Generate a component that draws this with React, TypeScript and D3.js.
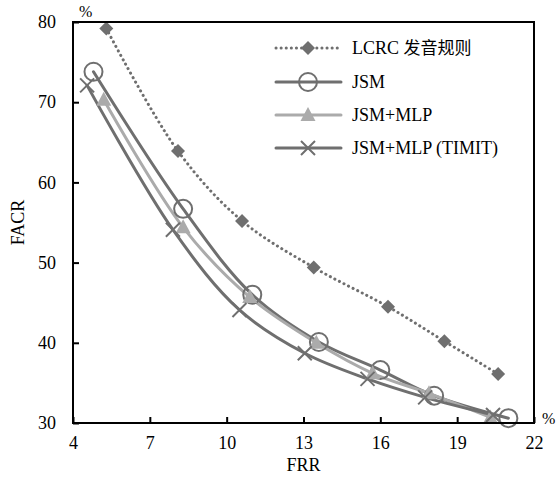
import { useEffect, useRef } from "react";
import * as d3 from "d3";

const xTicks = [4, 7, 10, 13, 16, 19, 22];
const yTicks = [30, 40, 50, 60, 70, 80];

const lcrc: [number, number][] = [
  [5.3, 79.2], [8.1, 63.9], [10.6, 55.2], [13.4, 49.4], [16.3, 44.5], [18.5, 40.2], [20.6, 36.1],
];
const jsm: [number, number][] = [
  [4.8, 73.8], [8.3, 56.7], [11.0, 46.0], [13.6, 40.1], [16.0, 36.6], [18.1, 33.4], [21.0, 30.6],
];
const jsmMlp: [number, number][] = [
  [5.2, 70.3], [8.3, 54.4], [10.9, 45.7], [13.5, 40.0], [15.7, 36.2], [17.9, 33.7], [20.3, 30.7],
];
const timit: [number, number][] = [
  [4.55, 72.1], [7.9, 54.1], [10.5, 44.1], [13.05, 38.7], [15.5, 35.5], [17.75, 33.2], [20.4, 31.0],
];

const legendLabels = ["LCRC 发音规则", "JSM", "JSM+MLP", "JSM+MLP (TIMIT)"];

const dark = "#6f6f6f";
const light = "#ababab";
const serif = "Liberation Serif";

type Series = { data: [number, number][]; color: string; marker: string; dotted?: boolean };

export default function App() {
  const ref = useRef<SVGSVGElement>(null);

  useEffect(() => {
    const width = 557;
    const height = 477;
    const margin = { top: 22, right: 23, bottom: 54, left: 73 };

    const svg = d3.select(ref.current);
    svg.selectAll("*").remove();

    const x = d3.scaleLinear().domain([4, 22]).range([margin.left, width - margin.right]);
    const y = d3.scaleLinear().domain([30, 80]).range([height - margin.bottom, margin.top]);

    const series: Series[] = [
      { data: lcrc, color: dark, marker: "diamond", dotted: true },
      { data: jsm, color: dark, marker: "circle" },
      { data: jsmMlp, color: light, marker: "triangle" },
      { data: timit, color: dark, marker: "cross" },
    ];

    const drawMarker = (g: d3.Selection<any, unknown, null, undefined>, kind: string, cx: number, cy: number, color: string) => {
      if (kind === "diamond") {
        g.append("path")
          .attr("d", `M${cx},${cy - 7}L${cx + 7},${cy}L${cx},${cy + 7}L${cx - 7},${cy}Z`)
          .attr("fill", color);
      } else if (kind === "circle") {
        g.append("circle")
          .attr("cx", cx).attr("cy", cy).attr("r", 9)
          .attr("fill", "none").attr("stroke", color).attr("stroke-width", 2);
      } else if (kind === "triangle") {
        g.append("path")
          .attr("d", `M${cx},${cy - 8}L${cx + 7.5},${cy + 6}L${cx - 7.5},${cy + 6}Z`)
          .attr("fill", color);
      } else {
        g.append("path")
          .attr("d", `M${cx - 7},${cy - 7}L${cx + 7},${cy + 7}M${cx + 7},${cy - 7}L${cx - 7},${cy + 7}`)
          .attr("stroke", color).attr("stroke-width", 2).attr("fill", "none");
      }
    };

    const line = d3
      .line<[number, number]>()
      .x((d) => x(d[0]))
      .y((d) => y(d[1]))
      .curve(d3.curveCatmullRom.alpha(0.5));

    const plot = svg.append("g");
    // lines first, markers on top
    series.forEach((s) => {
      plot.append("path")
        .datum(s.data)
        .attr("d", line)
        .attr("fill", "none")
        .attr("stroke", s.color)
        .attr("stroke-width", 3)
        .attr("stroke-linecap", "round")
        .attr("stroke-dasharray", s.dotted ? "0.1 5" : null);
    });
    series.forEach((s) => {
      s.data.forEach((d) => drawMarker(plot, s.marker, x(d[0]), y(d[1]), s.color));
    });

    // frame
    svg.append("rect")
      .attr("x", margin.left).attr("y", margin.top)
      .attr("width", width - margin.left - margin.right)
      .attr("height", height - margin.top - margin.bottom)
      .attr("fill", "none").attr("stroke", "#000").attr("stroke-width", 2);

    const xAxis = svg.append("g")
      .attr("transform", `translate(0,${height - margin.bottom})`)
      .call(d3.axisBottom(x).tickValues(xTicks).tickSizeInner(-6).tickSizeOuter(0).tickPadding(13));
    xAxis.select(".domain").remove();

    const yAxis = svg.append("g")
      .attr("transform", `translate(${margin.left},0)`)
      .call(d3.axisLeft(y).tickValues(yTicks).tickSizeInner(-6).tickSizeOuter(0).tickPadding(17));
    yAxis.select(".domain").remove();

    [xAxis, yAxis].forEach((a) => {
      a.attr("font-family", serif).attr("font-size", 18);
      a.selectAll("line").attr("stroke", "#000").attr("stroke-width", 2);
      a.selectAll("text").attr("fill", "#000");
    });

    const label = (xx: number, yy: number, txt: string, size = 17) =>
      svg.append("text")
        .attr("x", xx).attr("y", yy)
        .attr("font-family", serif).attr("font-size", size).text(txt);

    label(margin.left + 6, 17, "%", 16);
    label(width - margin.right + 8, height - margin.bottom + 1, "%", 16);
    label((margin.left + width - margin.right) / 2, 471, "FRR", 18).attr("text-anchor", "middle");
    svg.append("text")
      .attr("transform", `translate(24,${(margin.top + height - margin.bottom) / 2}) rotate(-90)`)
      .attr("text-anchor", "middle")
      .attr("font-family", serif).attr("font-size", 18).text("FACR");

    // legend
    const lg = svg.append("g");
    const rowY = [48, 82, 115, 148];
    series.forEach((s, i) => {
      const yy = rowY[i];
      lg.append("line")
        .attr("x1", 276).attr("x2", 341).attr("y1", yy).attr("y2", yy)
        .attr("stroke", s.color).attr("stroke-width", 3)
        .attr("stroke-linecap", "round")
        .attr("stroke-dasharray", s.dotted ? "0.1 5" : null);
      drawMarker(lg, s.marker, 308, yy, s.color);
      const t = lg.append("text")
        .attr("x", 352).attr("y", yy + 6)
        .attr("font-family", serif)
        .attr("font-size", 18)
        .text(i === 0 ? "LCRC " : legendLabels[i]);
      if (i === 0) {
        t.append("tspan").attr("font-family", "Noto Sans CJK SC").attr("font-size", 17).text("发音规则");
      }
    });
  }, []);

  return (
    <svg
      ref={ref}
      width={557}
      height={477}
      style={{ position: "absolute", left: 0, top: 0, background: "#fff" }}
    />
  );
}
